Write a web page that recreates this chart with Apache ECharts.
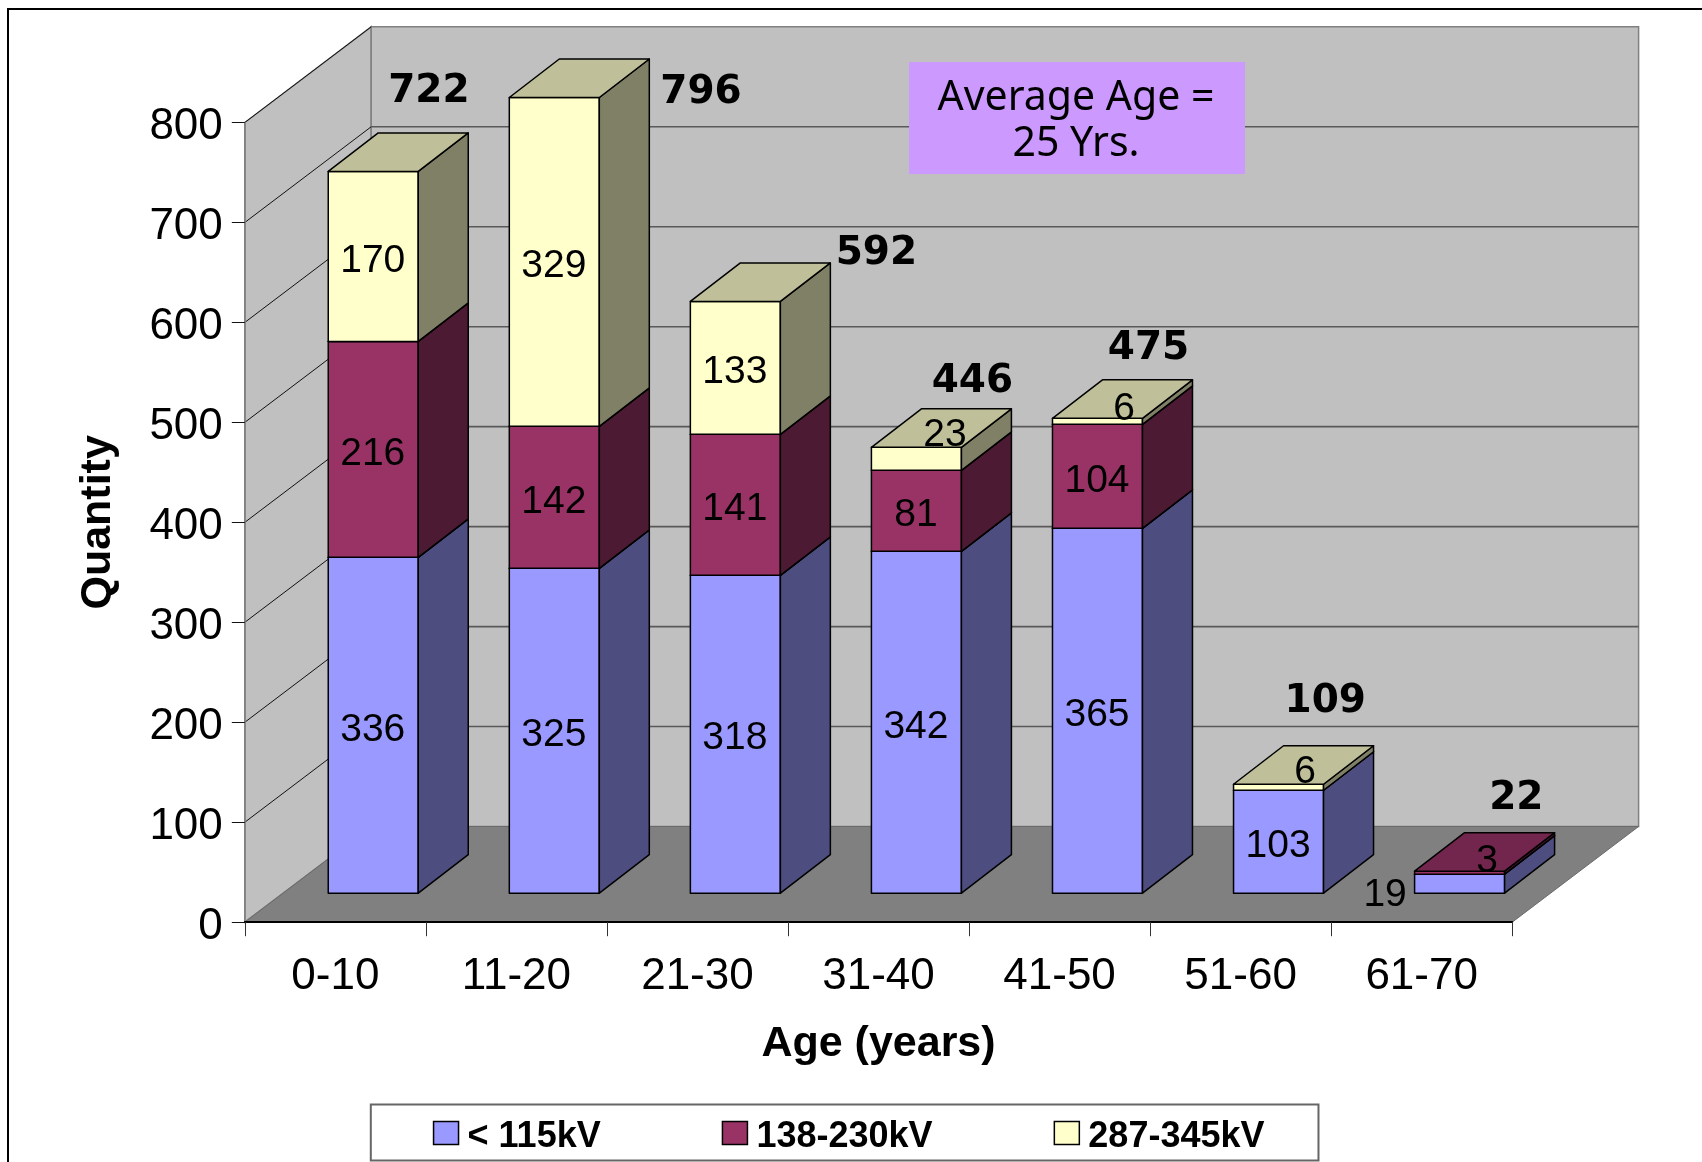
<!DOCTYPE html>
<html>
<head>
<meta charset="utf-8">
<script src="https://cdn.jsdelivr.net/npm/echarts@6/dist/echarts.min.js"></script>
<style>html,body{margin:0;padding:0;background:#fff}#c{width:1702px;height:1162px}</style>
</head>
<body>
<div id="c"></div>
<script>
// ---- data ----
var categories = ['0-10','11-20','21-30','31-40','41-50','51-60','61-70'];
var lowVoltage  = [336,325,318,342,365,103,19];
var midVoltage  = [216,142,141,81,104,0,3];
var highVoltage = [170,329,133,23,6,6,0];
var totals      = [722,796,592,446,475,109,22];
var yTicks      = [0,100,200,300,400,500,600,700,800];
var seriesNames = ['< 115kV','138-230kV','287-345kV'];
var noteLines   = 'Average Age =\n25 Yrs.';

// ---- presentation ----
var DX = 126.4, DY = 95.7;            // floor depth in px
var F0 = 0.3;                         // bar front as a fraction of the floor depth
var SIDE_X = 50, SIDE_Y = 38.5;       // bar depth in px
var BAR_W = 90;
var faces = [
  {front:'#9999FF', side:'#4D4D80', top:'#73739F'},
  {front:'#993366', side:'#4D1A33', top:'#73264D'},
  {front:'#FFFFCC', side:'#808066', top:'#BFBF99'}
];
// hand-placed labels in the source (series, category) -> px nudge
var labelNudge = {'2,3':[29,-28],'2,4':[27,-17],'2,5':[27,-19],'1,6':[28,-16],'0,6':[-74,7]};
var totalNudge = [[56.6,-83],[147.7,-8],[142,-51],[57,-69],[52,-73],[47.7,-86],[57.7,-76.6]];
var LBL = '39px "Liberation Sans", Arial, sans-serif';

function wallsRender(params, api) {
  var cs = params.coordSys;
  var xL = cs.x, xR = cs.x + cs.width;
  var y0 = api.coord([0,0])[1], yT = api.coord([0,yTicks[yTicks.length-1]])[1];
  var kids = [
    {type:'polygon', shape:{points:[[xL,y0],[xL+DX,y0-DY],[xL+DX,yT-DY],[xL,yT]]}, style:{fill:'#C0C0C0',stroke:'#808080',lineWidth:1.5}},
    {type:'rect', shape:{x:xL+DX,y:yT-DY,width:xR-xL,height:y0-yT}, style:{fill:'#C0C0C0',stroke:'#808080',lineWidth:1.5}},
    {type:'polygon', shape:{points:[[xL,y0],[xR,y0],[xR+DX,y0-DY],[xL+DX,y0-DY]]}, style:{fill:'#808080',stroke:'#6a6a6a',lineWidth:1}}
  ];
  yTicks.forEach(function(t,i){
    if (i===0) return;
    var y = api.coord([0,t])[1];
    kids.push({type:'line', shape:{x1:xL,y1:y,x2:xL+DX,y2:y-DY}, style:{stroke:'#111',lineWidth:1}});
    if (i<yTicks.length-1) kids.push({type:'line', shape:{x1:xL+DX,y1:y-DY,x2:xR+DX,y2:y-DY}, style:{stroke:'#595959',lineWidth:1.6}});
  });
  return {type:'group', children:kids};
}

function segmentRender(si) {
  return function(params, api) {
    var cat = api.value(0), lo = api.value(1), hi = api.value(2), val = hi-lo;
    if (!val) return null;
    var pLo = api.coord([cat,lo]), pHi = api.coord([cat,hi]);
    var x0 = pLo[0]-BAR_W/2+F0*DX, x1 = x0+BAR_W;
    var yb = pLo[1]-F0*DY-0.3, yt = pHi[1]-F0*DY-0.3;
    var sx = SIDE_X, sy = SIDE_Y;
    var f = faces[si], st = {stroke:'#000',lineWidth:1.5,lineJoin:'round'};
    var n = labelNudge[si+','+cat] || [0,0];
    return {type:'group', children:[
      {type:'polygon', shape:{points:[[x0,yb],[x1,yb],[x1,yt],[x0,yt]]}, style:Object.assign({fill:f.front},st)},
      {type:'polygon', shape:{points:[[x1,yb],[x1+sx,yb-sy],[x1+sx,yt-sy],[x1,yt]]}, style:Object.assign({fill:f.side},st)},
      {type:'polygon', shape:{points:[[x0,yt],[x1,yt],[x1+sx,yt-sy],[x0+sx,yt-sy]]}, style:Object.assign({fill:f.top},st)},
      {type:'text', z2:20, style:{text:String(val), x:(x0+x1)/2+n[0]-0.5, y:(yb+yt)/2+4.5+n[1], align:'center', verticalAlign:'middle', font:LBL, fill:'#000'}}
    ]};
  };
}

function totalRender(params, api) {
  var cat = api.value(0), v = api.value(1), p = api.coord([cat,v]);
  var n = totalNudge[cat];
  return {type:'text', z2:30, style:{text:String(v), x:p[0]+F0*DX-1+n[0], y:p[1]-F0*DY+n[1]+3.5, align:'center', verticalAlign:'middle',
    font:'bold 39px "DejaVu Sans", Verdana, sans-serif', fill:'#000'}};
}

function stackData(vals, bases) {
  return vals.map(function(v,i){ return [i, bases[i], bases[i]+v]; });
}
var base0 = categories.map(function(){return 0;});
var base1 = lowVoltage.slice();
var base2 = lowVoltage.map(function(v,i){return v+midVoltage[i];});

var chart = echarts.init(document.getElementById('c'), null, {renderer:'canvas'});
var FF = '"Liberation Sans", Arial, sans-serif';
var axisFont = {fontFamily:FF, fontSize:44, color:'#000'};
chart.setOption({
  animation:false,
  backgroundColor:'#fff',
  grid:{left:244.8, top:122.5, width:1267.4, height:799.7, containLabel:false, outerBoundsMode:'none'},
  xAxis:{type:'category', data:categories, boundaryGap:true, z:3,
    name:'Age (years)', nameLocation:'middle', nameGap:122, silent:true,
    nameTextStyle:{fontFamily:FF, fontSize:43, fontWeight:'bold', color:'#000', verticalAlign:'middle'},
    axisLine:{show:true, lineStyle:{color:'#000',width:2}},
    axisTick:{show:true, alignWithLabel:false, length:14, lineStyle:{color:'#333',width:1}},
    axisLabel:Object.assign({margin:33, interval:0}, axisFont),
    splitLine:{show:false}
  },
  yAxis:{type:'value', min:0, max:800, interval:100, z:3,
    name:'Quantity', nameLocation:'middle', nameGap:147, nameRotate:90, silent:true,
    nameTextStyle:{fontFamily:FF, fontSize:43, fontWeight:'bold', color:'#000', verticalAlign:'middle'},
    axisLine:{show:true, lineStyle:{color:'#808080',width:1.5}},
    axisTick:{show:true, length:13, lineStyle:{color:'#111',width:1}},
    axisLabel:{margin:22, formatter:'{a|{value}}', rich:{a:{fontFamily:FF, fontSize:44, color:'#000', padding:[9,0,0,0]}}},
    splitLine:{show:false}
  },
  legend:{
    left:370.8, top:1104.5, orient:'horizontal', selectedMode:false, silent:true,
    itemWidth:25, itemHeight:23, itemGap:121,
    padding:[15,54,5,62], backgroundColor:'#fff', borderColor:'#666', borderWidth:2,
    formatter:'{t|{name}}',
    textStyle:{rich:{t:{fontFamily:FF, fontSize:36, fontWeight:'bold', color:'#000', padding:[9,0,0,4]}}},
    data:seriesNames.map(function(n,i){
      return {name:n, icon:'rect', itemStyle:{color:faces[i].front, borderColor:'#000', borderWidth:1.5}};
    })
  },
  series:[
    {type:'custom', name:'walls', z:1, silent:true, coordinateSystem:'cartesian2d', data:[[0,0]], renderItem:wallsRender, clip:false},
    {type:'custom', name:seriesNames[0], z:4, silent:true, data:stackData(lowVoltage,base0), encode:{x:0,y:[1,2]}, renderItem:segmentRender(0), clip:false, itemStyle:{color:faces[0].front}},
    {type:'custom', name:seriesNames[1], z:5, silent:true, data:stackData(midVoltage,base1), encode:{x:0,y:[1,2]}, renderItem:segmentRender(1), clip:false, itemStyle:{color:faces[1].front}},
    {type:'custom', name:seriesNames[2], z:6, silent:true, data:stackData(highVoltage,base2), encode:{x:0,y:[1,2]}, renderItem:segmentRender(2), clip:false, itemStyle:{color:faces[2].front}},
    {type:'custom', name:'totals', z:7, silent:true, data:totals.map(function(v,i){return [i,v];}), encode:{x:0,y:1}, renderItem:totalRender, clip:false}
  ],
  graphic:[
    {type:'polyline', silent:true, z:10, shape:{points:[[8,1162],[8,9],[1702,9]]}, style:{stroke:'#000',lineWidth:2,fill:null}},
    {type:'rect', silent:true, z:10, shape:{x:909,y:62,width:336,height:112}, style:{fill:'#CC99FF'}},
    {type:'text', silent:true, z:11, x:1076, y:121, style:{text:noteLines, align:'center', verticalAlign:'middle', lineHeight:46,
      font:'41px "Noto Sans", Tahoma, sans-serif', fill:'#000'}}
  ]
});
</script>
</body>
</html>
